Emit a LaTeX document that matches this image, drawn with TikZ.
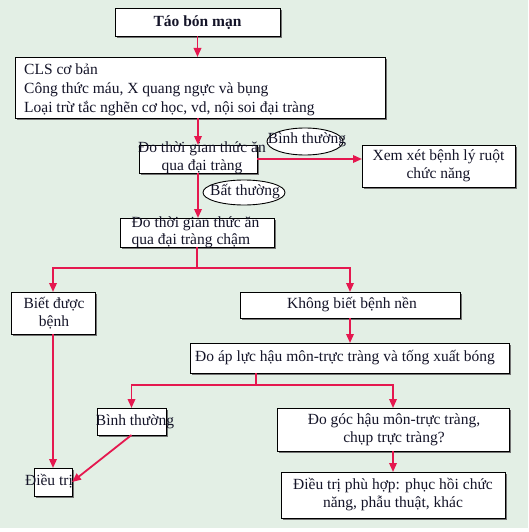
\documentclass[tikz,border=0pt]{standalone}
\usepackage{fontspec}
\setmainfont{Liberation Serif}
\usetikzlibrary{arrows.meta,shapes.geometric,shadows}
\definecolor{bg}{HTML}{E3EFE5}
\definecolor{arr}{HTML}{E5184F}
\definecolor{txt}{HTML}{141428}
\begin{document}
\begin{tikzpicture}[x=1pt,y=-1pt,
  box/.style={draw=black,line width=0.9pt,fill=white,inner sep=0pt,outer sep=0pt,
    drop shadow={shadow xshift=2.2pt,shadow yshift=-2.2pt,fill=black!55,opacity=1}},
  oval/.style={ellipse,draw=black,line width=0.9pt,fill=white,inner sep=0pt,outer sep=0pt},
  lbl/.style={font=\fontsize{15.5}{18}\selectfont,text=txt,inner sep=0pt,align=center},
  link/.style={draw=arr,line width=1.8pt},
  arrow/.style={link,-{Triangle[length=9pt,width=7.5pt]}}]
\useasboundingbox (0,0) rectangle (528,532);
\fill[white] (0,0) rectangle (528,532);
\fill[bg] (0,0) rectangle (528,528);
% boxes
\node[box,minimum width=165pt,minimum height=28pt] (title) at (197.5,22) {};
\node[lbl,font=\fontsize{15.5}{18}\selectfont\bfseries] at (197.5,22.5) {Táo bón mạn};
\node[box,minimum width=370pt,minimum height=61pt] (cls) at (200,87.5) {};
\node[lbl,align=left,anchor=west,font=\fontsize{15.5}{19}\selectfont] at (24,89.5) {CLS cơ bản\\Công thức máu, X quang ngực và bụng\\Loại trừ tắc nghẽn cơ học, vd, nội soi đại tràng};
\node[box,minimum width=118pt,minimum height=28pt] (t1) at (198,159) {};
\node[lbl,font=\fontsize{15.5}{18}\selectfont] at (202,157.5) {Đo thời gian thức ăn\\qua đại tràng};
\node[oval,minimum width=76pt,minimum height=27pt] (e1) at (305,141.5) {};
\node[lbl] at (307,140) {Bình thường};
\node[box,minimum width=153pt,minimum height=42pt] (xem) at (438.5,166) {};
\node[lbl] at (438.5,165.5) {Xem xét bệnh lý ruột\\chức năng};
\node[oval,minimum width=82pt,minimum height=25pt] (e2) at (244,192.5) {};
\node[lbl] at (245,191.5) {Bất thường};
\node[box,minimum width=154pt,minimum height=29pt] (t2) at (197,232.5) {};
\node[lbl,align=left,anchor=west,font=\fontsize{15.5}{17}\selectfont] at (131.5,232) {Đo thời gian thức ăn\\qua đại tràng chậm};
\node[box,minimum width=84pt,minimum height=42pt] (bd) at (53,313) {};
\node[lbl] at (54,313.5) {Biết được\\bệnh};
\node[box,minimum width=220pt,minimum height=26pt] (kb) at (350,305) {};
\node[lbl] at (352,305) {Không biết bệnh nền};
\node[box,minimum width=319pt,minimum height=30pt] (ap) at (349.5,358) {};
\node[lbl] at (345,358) {Đo áp lực hậu môn-trực tràng và tống xuất bóng};
\node[box,minimum width=69pt,minimum height=27pt] (bt) at (131.5,421.5) {};
\node[lbl] at (135,422) {Bình thường};
\node[box,minimum width=232pt,minimum height=43pt] (dg) at (393,429.5) {};
\node[lbl] at (394,430) {Đo góc hậu môn-trực tràng,\\chụp trực tràng?};
\node[box,minimum width=224pt,minimum height=46pt] (pt) at (393,495) {};
\node[lbl] at (393,495) {Điều trị phù hợp: phục hồi chức\\năng, phẫu thuật, khác};
\node[box,minimum width=38pt,minimum height=28pt] (dt) at (53,482) {};
\node[lbl] at (49,481) {Điều trị};
% junctions
\coordinate (s1) at (197,268);
\coordinate (s2) at (256,385);
% connectors
\draw[arrow] (title.south) -- (title.south |- cls.north);
\draw[arrow] (cls.south -| t1.north) -- (t1.north);
\draw[arrow] (t1.east) -- (xem.west |- t1.east);
\draw[arrow] (t1.south) -- (t2.north -| t1.south);
\draw[link] (t2.south) -- (s1);
\draw[arrow] (s1) -| (bd.north);
\draw[arrow] (s1) -| (kb.north);
\draw[arrow] (kb.south) -- (ap.north -| kb.south);
\draw[link] (ap.south -| s2) -- (s2);
\draw[arrow] (s2) -| (bt.north);
\draw[arrow] (s2) -| (dg.north);
\draw[arrow] (dg.south) -- (pt.north -| dg.south);
\draw[arrow] (bd.south) -- (dt.north);
\draw[arrow] (bt.south) -- (dt.east);
\end{tikzpicture}
\end{document}
